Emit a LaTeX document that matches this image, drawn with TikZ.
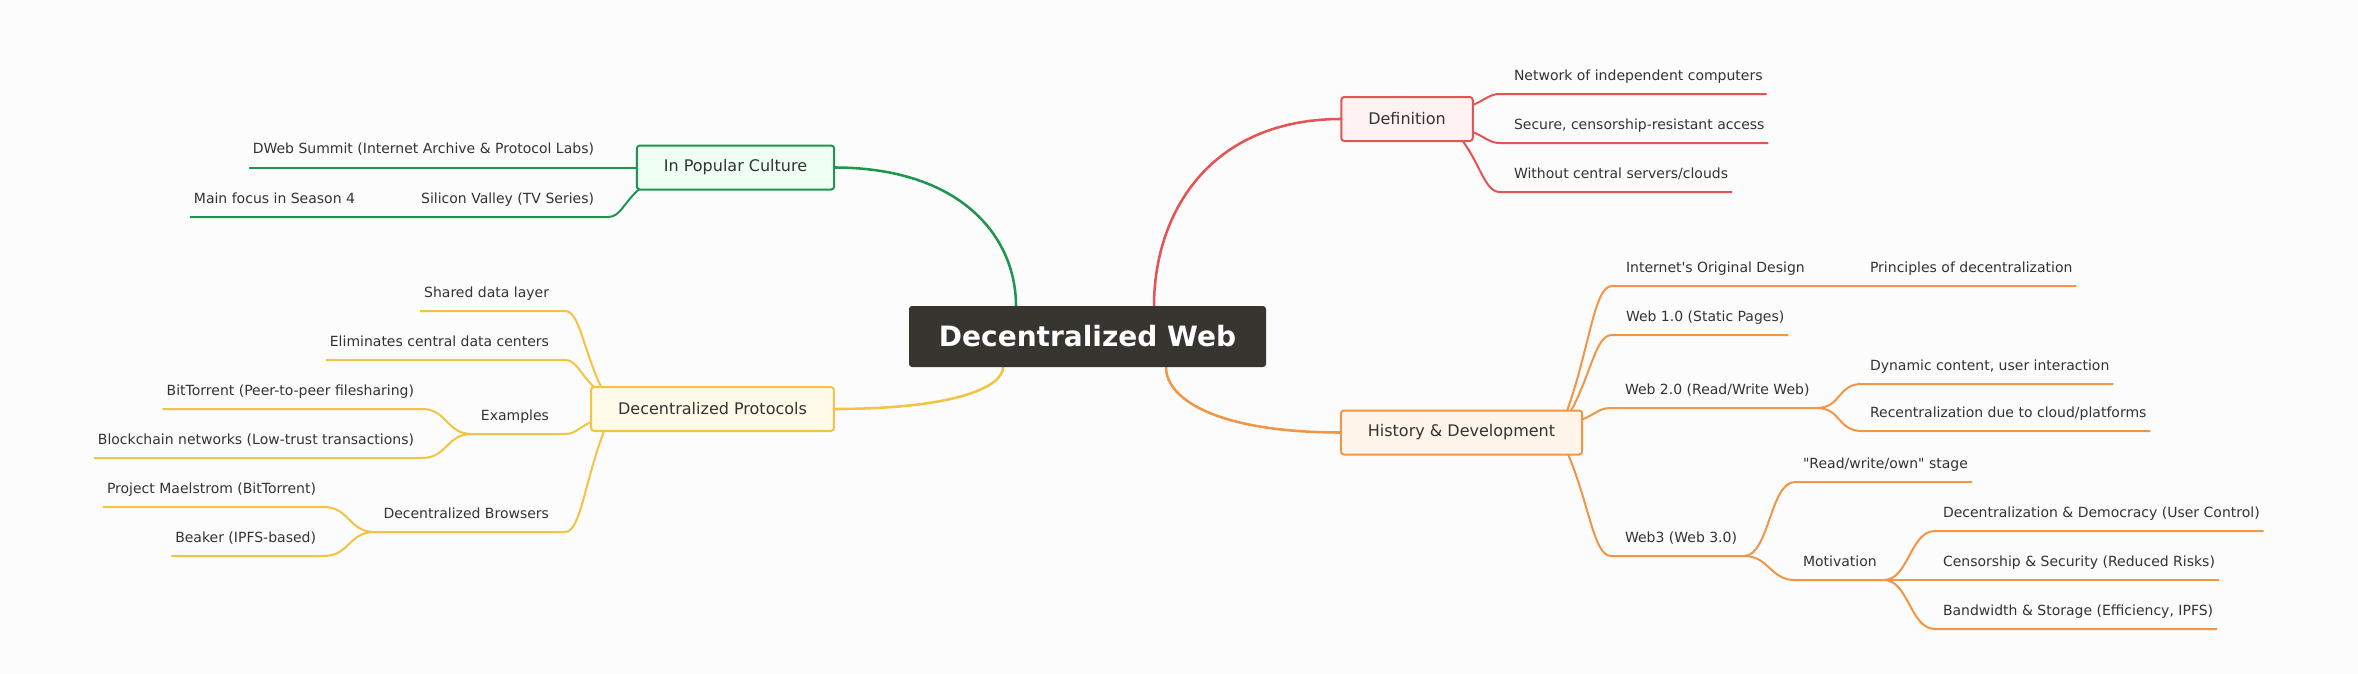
\documentclass[tikz,border=0pt]{standalone}
\usepackage{fontspec}
\setmainfont{DejaVu Sans}[Ligatures=TeXOff]
\usetikzlibrary{calc}
\pgfdeclarelayer{bg}
\pgfsetlayers{bg,main}
\definecolor{bgc}{RGB}{252,252,252}
\definecolor{txt}{RGB}{51,51,51}
\definecolor{rootc}{RGB}{54,53,48}
\definecolor{cred}{RGB}{229,83,83}
\definecolor{fred}{RGB}{255,242,242}
\definecolor{cgreen}{RGB}{30,150,82}
\definecolor{fgreen}{RGB}{239,255,243}
\definecolor{cyel}{RGB}{242,196,66}
\definecolor{fyel}{RGB}{255,250,233}
\definecolor{corg}{RGB}{242,150,70}
\definecolor{forg}{RGB}{255,245,235}
\begin{document}
\begin{tikzpicture}[x=0.75pt,y=-0.75pt,
  box/.style={draw, line width=1.5pt, rounded corners=2.25pt, font=\fontsize{12}{14}\selectfont, text=txt, inner xsep=20.25pt, inner ysep=0pt, minimum height=33pt, outer sep=0pt},
  rootbox/.style={fill=rootc, rounded corners=2.25pt, minimum width=267.75pt, minimum height=45.75pt, text=white, font=\fontsize{21}{25}\selectfont\bfseries, inner sep=0pt, outer sep=0pt},
  item/.style={font=\fontsize{10.5}{12}\selectfont, text=txt, inner xsep=0pt, inner ysep=10.5pt, text depth=0pt, outer sep=0pt},
  itemR/.style 2 args={item, anchor=south west, execute at begin node={\hspace*{#1}}, execute at end node={\hspace*{#2}}},
  itemL/.style 2 args={item, anchor=south east, execute at begin node={\hspace*{#2}}, execute at end node={\hspace*{#1}}},
  mainlink/.style={line width=1.9pt},
  link/.style={line width=1.5pt},
]
\useasboundingbox (0,0) rectangle (2358,674);
\begin{pgfonlayer}{bg}
\fill[bgc] (0,0) rectangle (2358,674);
\end{pgfonlayer}

% boxes
\node[rootbox] (root) at (1087.5,336.5) {Decentralized Web};
\node[box, draw=cred, fill=fred] (def) at (1407,119) {Definition};
\node[box, draw=corg, fill=forg] (hist) at (1461.5,432.5) {History \& Development};
\node[box, draw=cgreen, fill=fgreen] (pop) at (735.5,167.5) {In Popular Culture};
\node[box, draw=cyel, fill=fyel] (prot) at (712.5,409) {Decentralized Protocols};

% definition
\node[itemR={10.5pt}{3pt}] (d1) at (1500,94) {Network of independent computers};
\node[itemR={10.5pt}{3pt}] (d2) at (1500,143) {Secure, censorship-resistant access};
\node[itemR={10.5pt}{3pt}] (d3) at (1500,192) {Without central servers/clouds};

% history
\node[itemR={10.5pt}{3pt}] (h1) at (1612,286) {Internet's Original Design};
\node[itemR={6pt}{3pt}] (h1a) at (1862,286) {Principles of decentralization};
\node[itemR={10.5pt}{3pt}] (h2) at (1612,335) {Web 1.0 (Static Pages)};
\node[itemR={10.5pt}{5.25pt}] (h3) at (1611,408) {Web 2.0 (Read/Write Web)};
\node[itemR={6pt}{3pt}] (h3a) at (1862,384) {Dynamic content, user interaction};
\node[itemR={6pt}{3pt}] (h3b) at (1862,431) {Recentralization due to cloud/platforms};
\node[itemR={10.5pt}{5.25pt}] (h4) at (1611,556) {Web3 (Web 3.0)};
\node[itemR={6pt}{3pt}] (h4a) at (1795,482) {"Read/write/own" stage};
\node[itemR={6pt}{5.25pt}] (h4b) at (1795,580) {Motivation};
\node[itemR={6pt}{3pt}] (m1) at (1935,531) {Decentralization \& Democracy (User Control)};
\node[itemR={6pt}{3pt}] (m2) at (1935,580) {Censorship \& Security (Reduced Risks)};
\node[itemR={6pt}{3pt}] (m3) at (1935,629) {Bandwidth \& Storage (Efficiency, IPFS)};

% popular culture
\node[itemL={10.5pt}{3pt}] (p1) at (608,167.5) {DWeb Summit (Internet Archive \& Protocol Labs)};
\node[itemL={10.5pt}{3pt}] (p2) at (608,217) {Silicon Valley (TV Series)};
\node[itemL={10.5pt}{3pt}] (p2a) at (369,217) {Main focus in Season 4};

% protocols
\node[itemL={12pt}{3pt}] (q1) at (565,311) {Shared data layer};
\node[itemL={12pt}{3pt}] (q2) at (565,360) {Eliminates central data centers};
\node[itemL={12pt}{7pt}] (q3) at (565,434) {Examples};
\node[itemL={6pt}{3pt}] (q3a) at (422,409) {BitTorrent (Peer-to-peer filesharing)};
\node[itemL={6pt}{3pt}] (q3b) at (422,458) {Blockchain networks (Low-trust transactions)};
\node[itemL={12pt}{7pt}] (q4) at (565,532) {Decentralized Browsers};
\node[itemL={6pt}{3pt}] (q4a) at (324,507) {Project Maelstrom (BitTorrent)};
\node[itemL={6pt}{3pt}] (q4b) at (324,556) {Beaker (IPFS-based)};

\begin{pgfonlayer}{bg}
% root links
\draw[mainlink, cred] ($(root.north west)+(245,0)$) .. controls +(0,-93.5) and +(-131,0) .. (def.west);
\draw[mainlink, cgreen] ($(root.north west)+(107,0)$) .. controls +(0,-69) and +(127,0) .. (pop.east);
\draw[mainlink, cyel] ($(root.south west)+(94,0)$) .. controls +(0,21) and +(118,0) .. (prot.east);
\draw[mainlink, corg] ($(root.south west)+(257,0)$) .. controls +(0,33) and +(-122,0) .. (hist.west);

% definition
\draw[link,cred] ($(def.north east)+(0,8)$) .. controls +(13.5,-5.5) and +(-10.8,0) .. (d1.south west) -- (d1.south east);
\draw[link,cred] ($(def.south east)+(0,-9)$) .. controls +(13.5,5.5) and +(-10.8,0) .. (d2.south west) -- (d2.south east);
\draw[link,cred] ($(def.south east)+(-10,0)$) .. controls +(18.5,25.5) and +(-14.8,0) .. (d3.south west) -- (d3.south east);

% history
\draw[link,corg] ($(hist.north east)+(-15,0)$) .. controls +(22.5,-62.5) and +(-18,0) .. (h1.south west) -- (h1.south east) -- (h1a.south west) -- (h1a.south east);
\draw[link,corg] ($(hist.north east)+(-11,0)$) .. controls +(20.5,-38) and +(-16.4,0) .. (h2.south west) -- (h2.south east);
\draw[link,corg] ($(hist.north east)+(0,9)$) .. controls +(14.5,-6) and +(-11.6,0) .. (h3.south west) -- (h3.south east);
\draw[link,corg] ($(hist.south east)+(-14,0)$) .. controls +(21.5,51) and +(-17.2,0) .. (h4.south west) -- (h4.south east);
\foreach \c in {h3a,h3b}
  \draw[link,corg] (h3.south east) .. controls +(25,0) and +(-25,0) .. (\c.south west) -- (\c.south east);
\foreach \c in {h4a,h4b}
  \draw[link,corg] (h4.south east) .. controls +(25,0) and +(-25,0) .. (\c.south west) -- (\c.south east);
\foreach \c in {m1,m2,m3}
  \draw[link,corg] (h4b.south east) .. controls +(25,0) and +(-25,0) .. (\c.south west) -- (\c.south east);

% popular culture
\draw[link,cgreen] (pop.west) -- (p1.south east) -- (p1.south west);
\draw[link,cgreen] ($(pop.south west)+(2,0)$) .. controls +(-15.5,13.5) and +(12.4,0) .. (p2.south east) -- (p2.south west) -- (p2a.south east) -- (p2a.south west);

% protocols
\draw[link,cyel] ($(prot.north west)+(10,0)$) .. controls +(-18,-38) and +(14.4,0) .. (q1.south east) -- (q1.south west);
\draw[link,cyel] ($(prot.north west)+(3,0)$) .. controls +(-14.5,-13.5) and +(11.6,0) .. (q2.south east) -- (q2.south west);
\draw[link,cyel] ($(prot.south west)+(0,-9)$) .. controls +(-13,6) and +(10.4,0) .. (q3.south east) -- (q3.south west);
\draw[link,cyel] ($(prot.south west)+(13,0)$) .. controls +(-19.5,50.5) and +(15.6,0) .. (q4.south east) -- (q4.south west);
\foreach \c in {q3a,q3b}
  \draw[link,cyel] (q3.south west) .. controls +(-25,0) and +(25,0) .. (\c.south east) -- (\c.south west);
\foreach \c in {q4a,q4b}
  \draw[link,cyel] (q4.south west) .. controls +(-25,0) and +(25,0) .. (\c.south east) -- (\c.south west);
\end{pgfonlayer}
\end{tikzpicture}
\end{document}
